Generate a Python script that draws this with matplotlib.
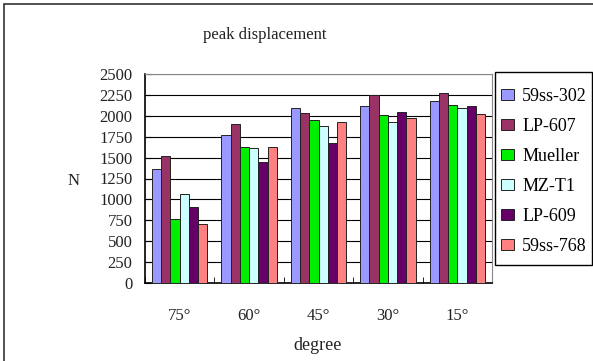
import numpy as np
import matplotlib.pyplot as plt
from matplotlib.patches import Rectangle

plt.rcParams['font.family'] = ['Liberation Serif', 'DejaVu Serif']

# data
degrees = ["75°", "60°", "45°", "30°", "15°"]
series_names = ["59ss-302", "LP-607", "Mueller", "MZ-T1", "LP-609", "59ss-768"]
ss302 = [1358, 1769, 2089, 2120, 2177]
lp607 = [1518, 1901, 2037, 2252, 2269]
mueller = [760, 1629, 1949, 2009, 2133]
mzt1 = [1066, 1610, 1877, 1921, 2097]
lp609 = [910, 1442, 1674, 2045, 2120]
ss768 = [707, 1629, 1921, 1969, 2021]
colors = ["#9999FF", "#993366", "#00EE00", "#CCFFFF", "#660066", "#FF8080"]

values = [ss302, lp607, mueller, mzt1, lp609, ss768]

fig = plt.figure(figsize=(5.93, 3.61), dpi=100)
ax = fig.add_axes([145 / 593, 1 - 283 / 361, 347 / 593, 209 / 361])

x = np.arange(len(degrees))
w = 0.8 / 6
for i, (name, vals) in enumerate(zip(series_names, values)):
    ax.bar(x - 0.4 + w * (i + 0.5), vals, width=w, color=colors[i],
           edgecolor="#222222", linewidth=0.7, label=name, zorder=3)

ax.set_xlim(-0.5, len(degrees) - 0.5)
ax.set_ylim(0, 2500)
ax.set_yticks(np.arange(0, 2501, 250))
ax.yaxis.grid(True, color="black", linewidth=0.8, zorder=0)
ax.set_axisbelow(True)
ax.set_xticks(x)
ax.set_xticklabels(degrees)
ax.set_xticks(np.arange(-0.5, len(degrees), 1), minor=True)
ax.tick_params(axis="x", which="major", length=0, pad=18, labelsize=12, labelcolor="#222222")
ax.tick_params(axis="x", which="minor", length=4, direction="in")
ax.tick_params(axis="y", length=4, direction="in", pad=9, labelsize=12, labelcolor="#222222")
for s in ["top", "right"]:
    ax.spines[s].set_color("#888888")
for s in ["left", "bottom"]:
    ax.spines[s].set_color("black")
    ax.spines[s].set_linewidth(1.2)

fig.text(265 / 593, 1 - 35 / 361, "peak displacement", ha="center", va="center",
         fontsize=12, color="#222222")
fig.text(318 / 593, 1 - 345 / 361, "degree", ha="center", va="center",
         fontsize=13, color="#222222")
fig.text(74 / 593, 1 - 181 / 361, "N", ha="center", va="center",
         fontsize=12, color="#222222")

# legend entries without their own frame; the box is drawn separately
fig.legend(loc="upper left", bbox_to_anchor=(501 / 593, 1 - 88 / 361),
           fontsize=13, frameon=False,
           handlelength=0.72, handleheight=0.62, handletextpad=0.45,
           labelspacing=0.72, borderpad=0, borderaxespad=0)
fig.patches.append(Rectangle((495 / 593, 1 - 265 / 361), 97 / 593, 193 / 361,
                             transform=fig.transFigure, fill=False,
                             edgecolor="black", linewidth=1.0))

# outer chart border
fig.patches.append(Rectangle((4 / 593, -0.1), 1.2, 1 - 4 / 361 + 0.1,
                             transform=fig.transFigure, fill=False,
                             edgecolor="#333333", linewidth=1.2))

fig.savefig("out.png", dpi=100)
